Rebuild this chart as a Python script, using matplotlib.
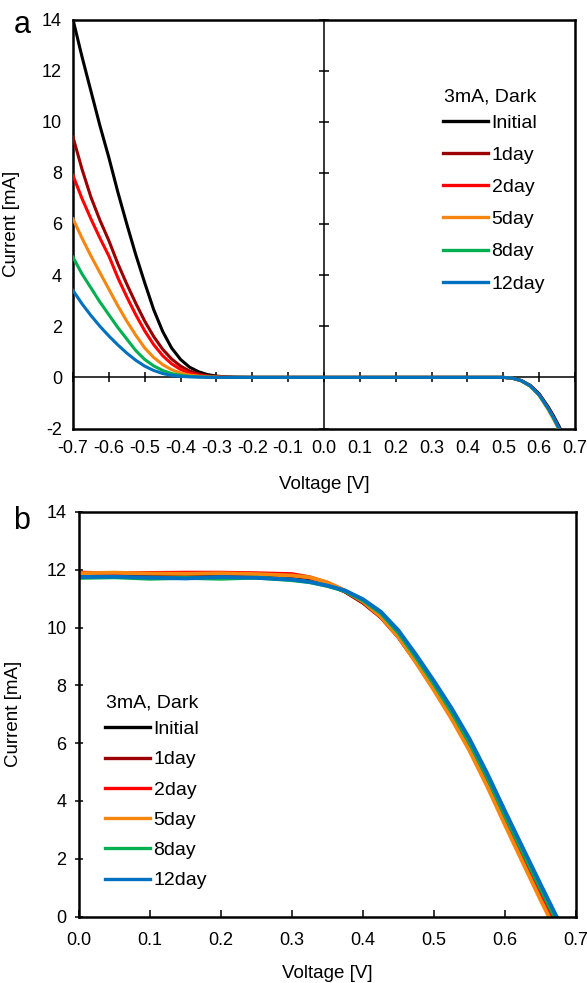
import numpy as np
import matplotlib
matplotlib.use('Agg')
from matplotlib import pyplot as plt
from matplotlib.ticker import FormatStrFormatter, MultipleLocator

plt.rcParams['font.family'] = ['Liberation Sans', 'DejaVu Sans']

labels = ['Initial', '1day', '2day', '5day', '8day', '12day']
colors = ['#000000', '#9b0000', '#ff0000', '#f7860f', '#00b050', '#0070c0']
legend_title = '3mA, Dark'

# panel a: dark I-V (reverse part, then the forward roll-off)
volt_a = [-0.7, -0.675, -0.65, -0.625, -0.6, -0.575, -0.55, -0.525, -0.5, -0.475,
          -0.45, -0.425, -0.4, -0.375, -0.35, -0.325, -0.3, -0.275, -0.25,
          -0.2, 0.0, 0.3, 0.5, 0.525, 0.55, 0.575, 0.6, 0.625, 0.64, 0.655, 0.67]
head_a = {
    'Initial': [14.0, 12.55, 11.2, 9.85, 8.6, 7.25, 6.0, 4.8, 3.7, 2.65,
                1.8, 1.15, 0.7, 0.4, 0.22, 0.11, 0.05, 0.02, 0.01],
    '1day':    [9.4, 8.15, 7.05, 6.15, 5.35, 4.45, 3.65, 2.9, 2.2, 1.6,
                1.1, 0.72, 0.44, 0.25, 0.13, 0.06, 0.025, 0.01, 0.0],
    '2day':    [7.9, 7.0, 6.2, 5.45, 4.75, 3.9, 3.15, 2.45, 1.82, 1.28,
                0.85, 0.53, 0.31, 0.17, 0.08, 0.04, 0.02, 0.01, 0.0],
    '5day':    [6.2, 5.45, 4.75, 4.1, 3.45, 2.8, 2.2, 1.65, 1.15, 0.78,
                0.5, 0.3, 0.17, 0.09, 0.045, 0.02, 0.01, 0.0, 0.0],
    '8day':    [4.7, 4.05, 3.5, 2.95, 2.45, 1.95, 1.5, 1.05, 0.7, 0.45,
                0.27, 0.15, 0.08, 0.04, 0.02, 0.01, 0.0, 0.0, 0.0],
    '12day':   [3.4, 2.88, 2.42, 2.0, 1.62, 1.27, 0.95, 0.67, 0.44, 0.27,
                0.15, 0.08, 0.04, 0.02, 0.01, 0.0, 0.0, 0.0, 0.0],
}
tail_a = {
    'Initial': [0.0, 0.0, 0.0, 0.0, -0.03, -0.12, -0.31, -0.64, -1.15, -1.5, -1.9, -2.35],
    '1day':    [0.0, 0.0, 0.0, 0.0, -0.03, -0.13, -0.33, -0.67, -1.2, -1.56, -1.97, -2.42],
    '2day':    [0.0, 0.0, 0.0, 0.0, -0.03, -0.13, -0.33, -0.68, -1.21, -1.57, -1.98, -2.43],
    '5day':    [0.0, 0.0, 0.0, 0.0, -0.03, -0.14, -0.35, -0.71, -1.26, -1.63, -2.05, -2.5],
    '8day':    [0.0, 0.0, 0.0, 0.0, -0.03, -0.13, -0.34, -0.69, -1.22, -1.59, -2.0, -2.45],
    '12day':   [0.0, 0.0, 0.0, 0.0, -0.03, -0.13, -0.33, -0.68, -1.21, -1.57, -1.98, -2.43],
}

# panel b: illuminated I-V
volt_b = [0.0, 0.05, 0.1, 0.15, 0.2, 0.25, 0.3, 0.325, 0.35, 0.375, 0.4, 0.425,
          0.45, 0.475, 0.5, 0.525, 0.55, 0.575, 0.6, 0.625, 0.65, 0.675, 0.69]
curr_b = {
    'Initial': [11.85, 11.84, 11.85, 11.83, 11.86, 11.84, 11.78, 11.7, 11.52, 11.25, 10.88, 10.38,
                9.7, 8.83, 7.92, 6.95, 5.88, 4.67, 3.36, 2.08, 0.82, -0.42, -1.17],
    '1day':    [11.87, 11.86, 11.87, 11.88, 11.86, 11.86, 11.8, 11.72, 11.52, 11.24, 10.86, 10.36,
                9.67, 8.8, 7.88, 6.9, 5.83, 4.62, 3.31, 2.02, 0.76, -0.48, -1.23],
    '2day':    [11.9, 11.88, 11.89, 11.9, 11.9, 11.88, 11.85, 11.74, 11.55, 11.27, 10.9, 10.38,
                9.68, 8.8, 7.86, 6.87, 5.79, 4.57, 3.25, 1.96, 0.7, -0.54, -1.29],
    '5day':    [11.88, 11.9, 11.87, 11.86, 11.88, 11.85, 11.8, 11.74, 11.56, 11.27, 10.9, 10.38,
                9.67, 8.78, 7.83, 6.83, 5.74, 4.5, 3.17, 1.87, 0.58, -0.66, -1.41],
    '8day':    [11.72, 11.74, 11.69, 11.72, 11.69, 11.73, 11.64, 11.57, 11.44, 11.26, 10.94, 10.5,
                9.82, 8.96, 8.05, 7.08, 6.02, 4.82, 3.5, 2.23, 0.97, -0.27, -1.02],
    '12day':   [11.75, 11.76, 11.73, 11.7, 11.75, 11.72, 11.66, 11.58, 11.45, 11.28, 10.98, 10.55,
                9.9, 9.05, 8.15, 7.2, 6.15, 4.95, 3.65, 2.38, 1.12, -0.12, -0.87],
}

W, H = 587, 983
fig = plt.figure(figsize=(W / 100, H / 100), dpi=100, facecolor='w')


def rect(l, t, r, b):
    return [l / W, 1 - b / H, (r - l) / W, (b - t) / H]


def add_legend(axis, x, y_top, y_title, spacing):
    leg = axis.legend(loc='upper left', frameon=False,
                      bbox_to_anchor=(x / W, 1 - y_top / H),
                      bbox_transform=fig.transFigure, fontsize=14,
                      handlelength=2.3, handletextpad=0.2, labelspacing=spacing,
                      borderpad=0, borderaxespad=0)
    for h in leg.get_lines():
        h.set_linewidth(2.4)
    fig.text((x + 1) / W, 1 - y_title / H, legend_title, fontsize=14,
             ha='left', va='baseline')


# ---- panel a ----
pos_a = rect(73, 19.5, 575, 428.5)
ax = fig.add_axes(pos_a)
ax.set_xlim(-0.7, 0.7)
ax.set_ylim(-2, 14)
ax.xaxis.set_major_locator(MultipleLocator(0.1))
ax.yaxis.set_major_locator(MultipleLocator(2))
ax.xaxis.set_major_formatter(FormatStrFormatter('%.1f'))
ax.yaxis.set_major_formatter(FormatStrFormatter('%d'))
ax.tick_params(length=0, labelsize=13, pad=8)
for s in ax.spines.values():
    s.set_linewidth(1.8)
ax.set_xlabel('Voltage [V]', fontsize=13.5)
ax.set_ylabel('Current [mA]', fontsize=13.5)
ax.xaxis.set_label_coords(0.5, -0.115)
ax.yaxis.set_label_coords(-0.105, 0.5)

# crossing axes through the origin, drawn on an overlay
ax2 = fig.add_axes(pos_a, sharex=ax, sharey=ax)
ax2.patch.set_visible(False)
ax2.spines['top'].set_visible(False)
ax2.spines['right'].set_visible(False)
ax2.spines['left'].set_position(('data', 0))
ax2.spines['bottom'].set_position(('data', 0))
ax2.spines['left'].set_linewidth(1.1)
ax2.spines['bottom'].set_linewidth(1.1)
ax2.tick_params(direction='inout', length=7, width=1.1,
                labelleft=False, labelbottom=False)

for lab, c in zip(labels, colors):
    ax2.plot(volt_a, head_a[lab] + tail_a[lab], color=c, lw=2.2,
             label=lab, zorder=3)
ax2.set_xlim(-0.7, 0.7)
ax2.set_ylim(-2, 14)
add_legend(ax2, 443, 114, 101.5, 0.75)

fig.text(22 / W, 1 - 33 / H, 'a', fontsize=22, ha='center', va='baseline')

# ---- panel b ----
bx = fig.add_axes(rect(79, 512, 576, 916.5))
for lab, c in zip(labels, colors):
    bx.plot(volt_b, curr_b[lab], color=c, lw=2.8, label=lab)
bx.set_xlim(0, 0.7)
bx.set_ylim(0, 14)
bx.xaxis.set_major_locator(MultipleLocator(0.1))
bx.yaxis.set_major_locator(MultipleLocator(2))
bx.xaxis.set_major_formatter(FormatStrFormatter('%.1f'))
bx.yaxis.set_major_formatter(FormatStrFormatter('%d'))
for s in bx.spines.values():
    s.set_linewidth(1.8)
bx.tick_params(axis='x', direction='in', length=5, width=1.1, labelsize=13, pad=11)
bx.tick_params(axis='y', direction='inout', length=6, width=1.1, labelsize=13, pad=6)
bx.set_xlabel('Voltage [V]', fontsize=13.5)
bx.set_ylabel('Current [mA]', fontsize=13.5)
bx.xaxis.set_label_coords(0.5, -0.12)
bx.yaxis.set_label_coords(-0.115, 0.5)
add_legend(bx, 105, 720.5, 708, 0.65)

fig.text(22 / W, 1 - 529 / H, 'b', fontsize=22, ha='center', va='baseline')

fig.savefig('out.png', dpi=100)
